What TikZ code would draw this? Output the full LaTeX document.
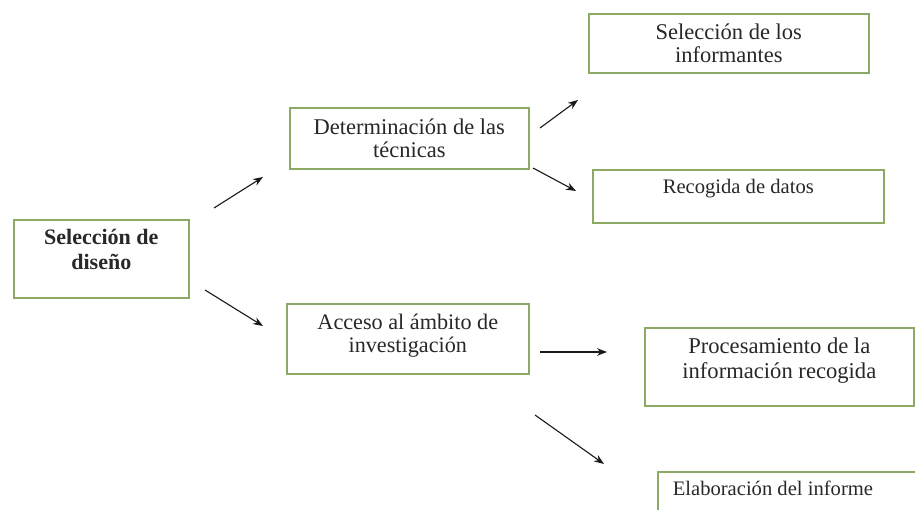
\documentclass[tikz,border=0pt]{standalone}
\usepackage{fontspec}
\setmainfont{Liberation Serif}
\usetikzlibrary{arrows.meta}
\definecolor{boxgreen}{RGB}{140,170,100}
\definecolor{txtgray}{RGB}{40,40,40}
\definecolor{arrgray}{RGB}{25,25,25}
% width, height, first baseline, font size, line skip, text
\newcommand\btext[6]{\parbox[t][#2][t]{#1}{\fontsize{#4}{#5}\selectfont\centering\rule{0pt}{#3}#6}}
\tikzset{
  box/.style={draw=boxgreen, line width=1.6pt, inner sep=0pt, anchor=north west, text=txtgray},
  arr/.style={draw=arrgray, line width=1.1pt, -{Stealth[length=10pt,width=7.5pt]}}
}
\begin{document}
\begin{tikzpicture}[x=1pt,y=-1pt]
\useasboundingbox (0,0) rectangle (915,510);
\clip (0,0) rectangle (915,510);
\fill[white] (0,0) rectangle (915,510);

\node[box] (sel) at (13,219) {\btext{175pt}{78pt}{25pt}{22}{25}{\bfseries Selección de\\diseño}};
\node[box] (det) at (289,107) {\btext{239pt}{61pt}{27pt}{22.5}{23}{Determinación de las\\técnicas}};
\node[box] (inf) at (588,13) {\btext{280pt}{59pt}{26pt}{22.5}{23}{Selección de los\\informantes}};
\node[box] (rec) at (592,169) {\btext{291pt}{53pt}{24pt}{20.6}{23}{Recogida de datos}};
\node[box] (acc) at (286,303) {\btext{242pt}{70pt}{26pt}{22.2}{23}{Acceso al ámbito de\\investigación}};
\node[box] (pro) at (644,327) {\btext{269pt}{78pt}{26pt}{22.6}{25}{Procesamiento de la\\información recogida}};
\node[box] (ela) at (657,471) {\parbox[t][60pt][t]{270pt}{\fontsize{20.6}{24}\selectfont\hspace*{15pt}\rule{0pt}{24pt}Elaboración del informe}};

\coordinate (a1s) at (214,208); \coordinate (a1e) at (263,177);
\coordinate (a2s) at (205,290); \coordinate (a2e) at (263,326);
\coordinate (a3s) at (540,128); \coordinate (a3e) at (578,100);
\coordinate (a4s) at (533,168); \coordinate (a4e) at (576,191);
\coordinate (a5s) at (540,352); \coordinate (a5e) at (607,352);
\coordinate (a6s) at (535,415); \coordinate (a6e) at (604,464);

\draw[arr] (a1s) -- (a1e);
\draw[arr] (a2s) -- (a2e);
\draw[arr] (a3s) -- (a3e);
\draw[arr] (a4s) -- (a4e);
\draw[arr] (a5s) -- (a5e);
\draw[arr] (a6s) -- (a6e);
\end{tikzpicture}
\end{document}
